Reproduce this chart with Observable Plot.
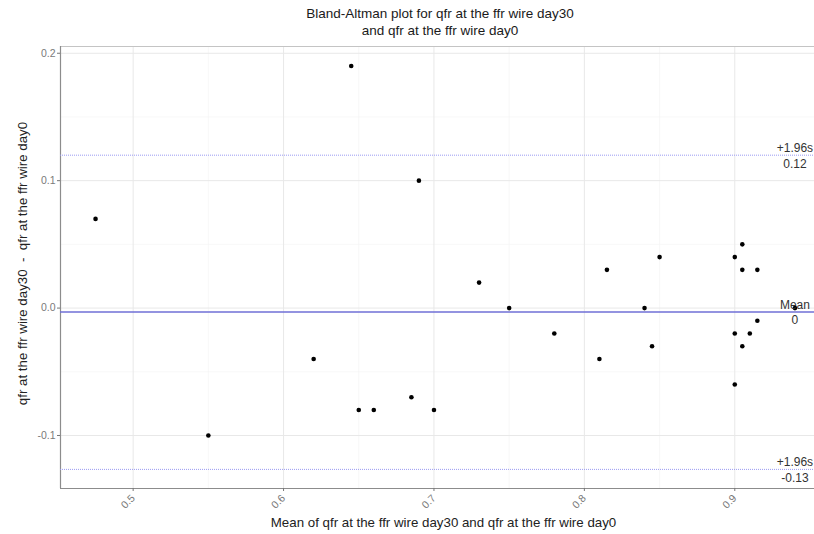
<!DOCTYPE html>
<html>
<head>
<meta charset="utf-8">
<script src="https://cdn.jsdelivr.net/npm/d3@7"></script>
<script src="https://cdn.jsdelivr.net/npm/@observablehq/plot@0.6"></script>
<style>
  body { margin: 0; background: #fff; font-family: "Liberation Sans", Arial, sans-serif; }
  #title { width: 814px; box-sizing: border-box; padding-left: 66px; padding-top: 5px; height: 44px; text-align: center; font-size: 13.5px; line-height: 17px; color: #1a1a1a; }
</style>
</head>
<body>
<div id="title">Bland-Altman plot for qfr at the ffr wire day30<br>and qfr at the ffr wire day0</div>
<div id="chart"></div>
<script>
// Means of the two measurements (x) and their differences (y)
const meanX = [0.475, 0.55, 0.62, 0.645, 0.65, 0.66, 0.685, 0.69, 0.70, 0.73, 0.75, 0.78, 0.81, 0.815,
               0.84, 0.845, 0.85, 0.90, 0.905, 0.905, 0.915, 0.915, 0.91, 0.90, 0.905, 0.90, 0.94];
const diffY = [0.07, -0.10, -0.04, 0.19, -0.08, -0.08, -0.07, 0.10, -0.08, 0.02, 0.00, -0.02, -0.04, 0.03,
               0.00, -0.03, 0.04, 0.04, 0.05, 0.03, 0.03, -0.01, -0.02, -0.02, -0.03, -0.06, 0.00];

// Mean difference and limits of agreement
const limitValues = [0.12, -0.003, -0.1266];
const limitNames = ["+1.96s", "Mean", "+1.96s"];
const limitLabels = ["0.12", "0", "-0.13"];
const limitKinds = ["loa", "mean", "loa"];

// Axes
const xDomain = [0.4517, 0.953];
const yDomain = [-0.1416, 0.2053];
const xTicks = [0.5, 0.6, 0.7, 0.8, 0.9];
const xMinor = [0.55, 0.65, 0.75, 0.85];
const yTicks = [-0.1, 0.0, 0.1, 0.2];
const yMinor = [-0.05, 0.05, 0.15];
const xLabel = "Mean of qfr at the ffr wire day30 and qfr at the ffr wire day0";
const yLabel = "qfr at the ffr wire day30\u00a0\u00a0-\u00a0\u00a0qfr at the ffr wire day0";

const points = meanX.map((x, i) => ({x, y: diffY[i]}));
const limits = limitValues.map((v, i) => ({v, name: limitNames[i], label: limitLabels[i], kind: limitKinds[i]}));
const labelX = d3.max(meanX);

const chart = Plot.plot({
  width: 814,
  height: 490,
  marginLeft: 60,
  marginRight: 0,
  marginTop: 2,
  marginBottom: 46,
  style: {fontFamily: "Liberation Sans, Arial, sans-serif", background: "#fff"},
  x: {domain: xDomain},
  y: {domain: yDomain},
  marks: [
    Plot.gridX(xMinor, {stroke: "#f3f3f3", strokeOpacity: 1, strokeWidth: 0.6}),
    Plot.gridY(yMinor, {stroke: "#f3f3f3", strokeOpacity: 1, strokeWidth: 0.6}),
    Plot.gridX(xTicks, {stroke: "#e8e8e8", strokeOpacity: 1, strokeWidth: 1}),
    Plot.gridY(yTicks, {stroke: "#e8e8e8", strokeOpacity: 1, strokeWidth: 1}),
    Plot.ruleY([yDomain[1]], {stroke: "#c4c4c4", strokeWidth: 1.2}),
    Plot.ruleX([xDomain[0]], {stroke: "#8c8c8c", strokeWidth: 1.2}),
    Plot.ruleY([yDomain[0]], {stroke: "#8c8c8c", strokeWidth: 1.2}),
    Plot.axisX(xTicks, {tickSize: 3, tickPadding: 5, tickRotate: -45, fontSize: 10.5, fill: "#7a7a7a", stroke: "#777", label: null, tickFormat: d => d.toFixed(1)}),
    Plot.axisY(yTicks, {tickSize: 3, tickPadding: 2, fontSize: 10.5, fill: "#7a7a7a", stroke: "#777", label: null, tickFormat: d => d.toFixed(1)}),
    Plot.ruleY(limits.filter(d => d.kind === "loa"), {y: "v", stroke: "#9a9af2", strokeWidth: 1, strokeDasharray: "1,1"}),
    Plot.ruleY(limits.filter(d => d.kind === "mean"), {y: "v", stroke: "#6f6fd6", strokeWidth: 1.5}),
    Plot.dot(points, {x: "x", y: "y", r: 2.3, fill: "#000", stroke: "none"}),
    Plot.text(limits, {x: () => labelX, y: "v", text: "name", lineAnchor: "bottom", dy: -3, fontSize: 12, fill: "#333", textAnchor: "middle"}),
    Plot.text(limits, {x: () => labelX, y: "v", text: "label", lineAnchor: "top", dy: 4, fontSize: 12, fill: "#333", textAnchor: "middle"}),
    Plot.text([xLabel], {frameAnchor: "bottom", dx: 6, dy: 34, text: d => d, fontSize: 13.3, fill: "#222", lineAnchor: "middle", textAnchor: "middle"}),
    Plot.text([yLabel], {frameAnchor: "left", dx: -38, dy: -4, rotate: -90, text: d => d, fontSize: 13.3, fill: "#222", lineAnchor: "middle", textAnchor: "middle"})
  ]
});
document.getElementById("chart").appendChild(chart);
</script>
</body>
</html>
